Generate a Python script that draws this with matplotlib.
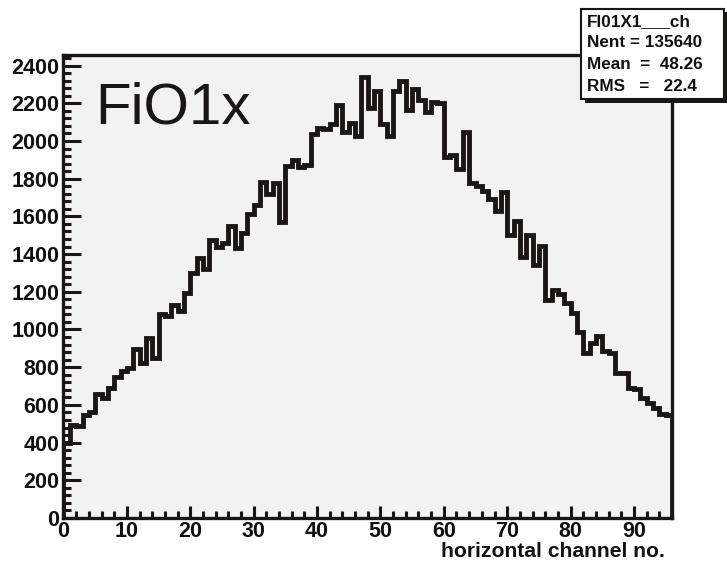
import numpy as np
import matplotlib.pyplot as plt
from matplotlib.patches import Rectangle

# channel counts, 96 bins of the FI01X1 horizontal fibre plane
counts = [400, 493, 490, 545, 560, 656, 635, 689, 747, 780,
          795, 896, 824, 954, 848, 1082, 1072, 1130, 1100, 1192,
          1298, 1378, 1319, 1475, 1436, 1461, 1549, 1431, 1514, 1613,
          1660, 1784, 1718, 1779, 1572, 1867, 1899, 1864, 1873, 2037,
          2067, 2062, 2088, 2191, 2050, 2097, 2027, 2341, 2173, 2267,
          2090, 2027, 2267, 2317, 2164, 2276, 2218, 2152, 2209, 2203,
          1917, 1926, 1850, 2050, 1776, 1761, 1737, 1691, 1631, 1731,
          1501, 1577, 1386, 1501, 1342, 1443, 1157, 1210, 1188, 1139,
          1089, 988, 877, 927, 965, 888, 874, 771, 767, 688,
          684, 635, 608, 582, 552, 546]
edges = np.arange(len(counts) + 1)

hist_name = "FI01X1___ch"
stats_lines = ["Nent = 135640", "Mean  =  48.26", "RMS   =   22.4"]
big_label = "FiO1x"
x_title = "horizontal channel no."

W, H = 727, 565
fig = plt.figure(figsize=(W / 100, H / 100), dpi=100)
fig.patch.set_facecolor("white")

ax = fig.add_axes([63.5 / W, (H - 518) / H, (672 - 63.5) / W, (518 - 55) / H])
ax.set_facecolor("#f2f2f2")

# histogram outline, closed down to zero at both ends
ys = np.concatenate([[0], counts, [0]])
xs = np.concatenate([[edges[0]], edges])
ax.step(xs, ys, where="post", color="#1a1616", lw=3.5, solid_joinstyle="miter")

ax.set_xlim(0, 96)
ax.set_ylim(0, 2456)
ax.set_xticks(np.arange(0, 91, 10))
ax.set_xticks(np.arange(0, 97, 2), minor=True)
ax.set_yticks(np.arange(0, 2401, 200))
ax.set_yticks(np.arange(0, 2456, 40), minor=True)
ax.tick_params(axis="both", which="both", direction="in", color="#1a1616", width=2.2)
ax.tick_params(axis="y", which="major", length=13, pad=3)
ax.tick_params(axis="y", which="minor", length=6)
ax.tick_params(axis="x", which="major", length=9, pad=2)
ax.tick_params(axis="x", which="minor", length=5)
for lab in ax.get_xticklabels() + ax.get_yticklabels():
    lab.set_fontfamily("Liberation Sans")
    lab.set_fontweight("bold")
    lab.set_fontsize(15.5)
    lab.set_color("#111111")
for sp in ax.spines.values():
    sp.set_linewidth(2.4)
    sp.set_color("#1a1616")

fig.text(665 / W, (H - 557) / H, x_title, ha="right", va="baseline",
         fontsize=15.2, fontweight="bold", family="Liberation Sans", color="#111111")

fig.text(95 / W, (H - 123) / H, big_label, ha="left", va="baseline",
         fontsize=42, family="Liberation Sans", color="#1a1616")

# stats box with drop shadow
shadow = Rectangle((585 / W, (H - 103) / H), (727 - 585) / W, (103 - 12) / H,
                   transform=fig.transFigure, facecolor="#1a1616", edgecolor="none", zorder=5)
box = Rectangle((581 / W, (H - 99) / H), (724 - 581) / W, (99 - 9) / H,
                transform=fig.transFigure, facecolor="white", edgecolor="#1a1616",
                lw=1.5, zorder=6)
fig.patches.extend([shadow, box])
baselines = [26, 47, 69, 91]
for y, txt in zip(baselines, [hist_name] + stats_lines):
    fig.text(587 / W, (H - y) / H, txt, ha="left", va="baseline",
             fontsize=12.3, fontweight="bold", family="Liberation Sans",
             color="#111111", zorder=7)

fig.savefig("out.png", dpi=100)
